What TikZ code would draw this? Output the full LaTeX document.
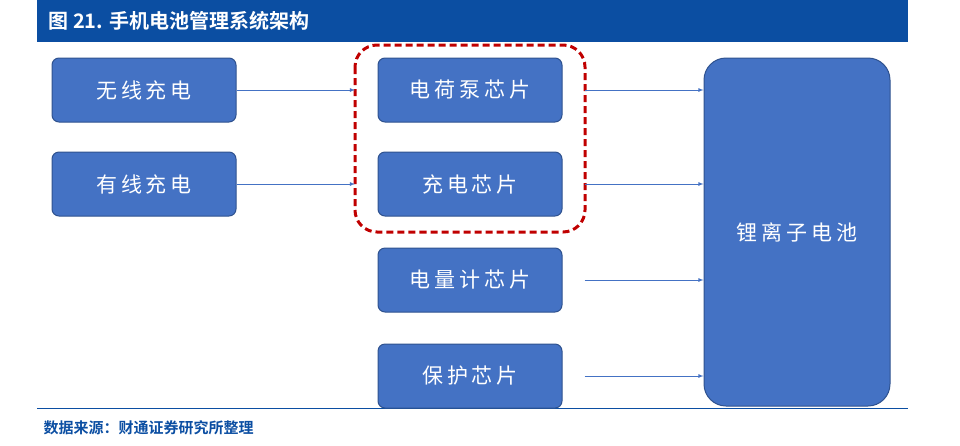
\documentclass[tikz,border=0pt]{standalone}
\usepackage{fontspec}
\newfontfamily\cjk[LetterSpace=18]{Noto Sans CJK SC}
\newfontfamily\cjkb{Noto Sans CJK SC Bold}
\definecolor{bfill}{RGB}{68,114,196}
\definecolor{bdraw}{RGB}{47,82,143}
\definecolor{tblue}{RGB}{11,78,162}
\definecolor{dred}{RGB}{192,0,0}
\begin{document}
\begin{tikzpicture}[x=1pt,y=-1pt,
  blk/.style={draw=bdraw, line width=1pt, fill=bfill, rounded corners=7pt, text=white, font=\cjk\fontsize{21}{24}\selectfont, minimum width=184pt, minimum height=64pt, inner sep=0pt},
  arr/.style={draw=bfill, line width=0.8pt, -latex}]
\useasboundingbox (0,0) rectangle (960,445);
\fill[tblue] (37,0) rectangle (908,42);
\node[anchor=west, text=white, font=\cjkb\fontsize{20}{22}\selectfont] (title) at (45,21) {图 21. 手机电池管理系统架构};
\draw[tblue, line width=1pt] (37,408) -- (908,408);
\node[anchor=west, text=tblue, font=\cjkb\fontsize{15}{17}\selectfont] (src) at (40,428) {数据来源：财通证券研究所整理};
\node[blk] (w) at (144,90) {无线充电};
\node[blk] (y) at (144,184) {有线充电};
\node[blk] (a) at (470,90) {电荷泵芯片};
\node[blk] (b) at (470,184) {充电芯片};
\node[blk] (c) at (470,280) {电量计芯片};
\node[blk] (d) at (470,376) {保护芯片};
\node[blk, minimum width=186pt, minimum height=348pt, rounded corners=22pt] (bat) at (797,232) {锂离子电池};
\draw[dred, line width=3pt, dash pattern=on 7pt off 4pt, rounded corners=22pt] (355,45) rectangle (585,232);
\draw[arr] (w.east) -- (355,90);
\draw[arr] (y.east) -- (355,184);
\foreach \n/\yy in {a/90,b/184,c/280,d/376} \draw[arr] (\n.east) ++(22,0) -- (bat.west |- 0,\yy);
\end{tikzpicture}
\end{document}
